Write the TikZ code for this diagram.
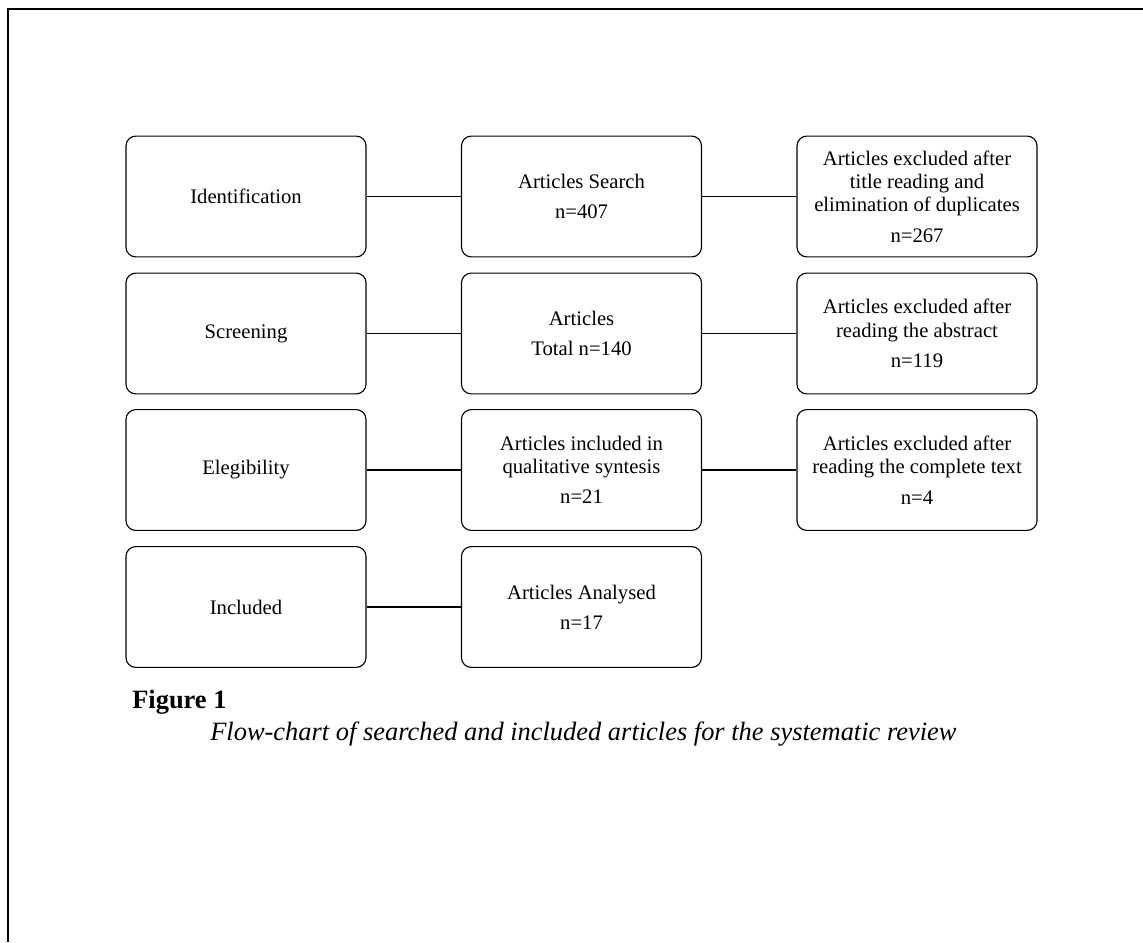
\documentclass[tikz,border=0pt]{standalone}
\usepackage{fontspec}
\setmainfont{Liberation Serif}
\newfontfamily\capfont{Liberation Serif}

\begin{document}
\begin{tikzpicture}[x=0.025cm,y=-0.025cm]
	\useasboundingbox (0,0) rectangle (1143,942);
	\draw[line width=1.2pt] (8,942) -- (8,9) -- (1143,9);
	\begin{scope}[every node/.style={draw,thick,rounded corners=7pt,
	              minimum width=6cm,minimum height=3.02cm,align=center,
	              font=\fontsize{14.7}{16.5}\selectfont}]
		\node (I) at (246,196.5) {Identification};
		\node (S) at (581.5,196.5) {Articles Search\\[5pt]n=407};
		\node (X1) at (917,196.5) {Articles excluded after\\title reading and\\elimination of duplicates\\[5pt]n=267};
		\node (Sc) at (246,333.5) {Screening};
		\node (T) at (581.5,333.5) {Articles\\[5pt]Total n=140};
		\node (X2) at (917,333.5) {Articles excluded after\\reading the abstract\\[5pt]n=119};
		\node (E) at (246,470) {Elegibility};
		\node (Q) at (581.5,470) {Articles included in\\qualitative syntesis\\[5pt]n=21};
		\node (X3) at (917,470) {Articles excluded after\\reading the complete text\\[5pt]n=4};
		\node (In) at (246,607) {Included};
		\node (A) at (581.5,607) {Articles Analysed\\[5pt]n=17};
	\end{scope}
	\begin{scope}[every edge/.style={draw,thick}]
		\path (I) edge (S) (S) edge (X1);
		\path (Sc) edge (T) (T) edge (X2);
		\path (E) edge (Q) (Q) edge (X3);
		\path (In) edge (A);
	\end{scope}
	\node[anchor=base west,inner sep=0pt,font=\capfont\bfseries\fontsize{18.8}{20}\selectfont] (fig) at (132,708) {Figure 1};
	\node[anchor=base west,inner sep=0pt,font=\capfont\itshape\fontsize{18.8}{20}\selectfont] (cap) at (210,740) {Flow-chart of searched and included articles for the systematic review};
\end{tikzpicture}
\end{document}
